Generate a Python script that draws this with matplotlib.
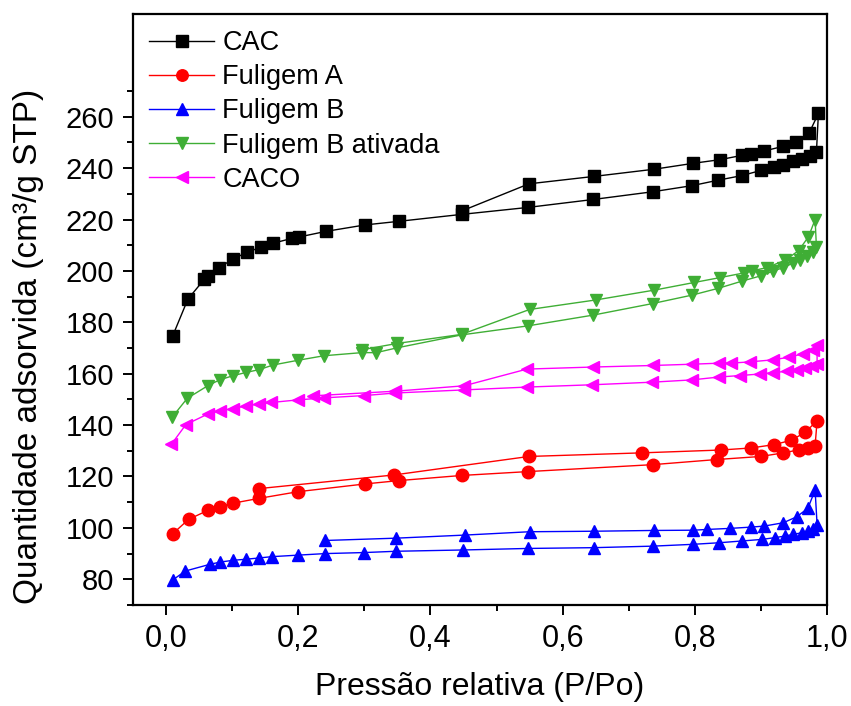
import matplotlib
matplotlib.use('Agg')
import matplotlib.pyplot as plt
from matplotlib.ticker import MultipleLocator, FixedLocator, FuncFormatter

plt.rcParams['font.family'] = ['Liberation Sans', 'DejaVu Sans']

# isotherms: adsorption branch followed by desorption branch
cac_x = [0.010, 0.033, 0.058, 0.063, 0.080, 0.102, 0.122, 0.144, 0.162, 0.191, 0.201,
         0.242, 0.301, 0.352, 0.447, 0.547, 0.646, 0.736, 0.796, 0.835, 0.871, 0.900,
         0.920, 0.934, 0.949, 0.962, 0.974, 0.984,
         0.987, 0.973, 0.953, 0.934, 0.905, 0.885, 0.872, 0.838, 0.798, 0.739, 0.648,
         0.549, 0.447]
cac_y = [174.7, 189.0, 196.8, 198.0, 201.3, 204.7, 207.2, 209.3, 210.8, 212.7, 213.2,
         215.4, 217.9, 219.3, 222.0, 224.7, 227.8, 230.8, 233.2, 235.3, 237.1, 239.1,
         240.4, 241.4, 242.6, 243.5, 244.8, 246.2,
         261.3, 253.7, 250.3, 248.5, 246.7, 245.6, 245.0, 243.3, 241.9, 239.6, 236.8,
         233.9, 223.3]

fa_x = [0.010, 0.034, 0.064, 0.081, 0.101, 0.141, 0.200, 0.301, 0.352, 0.447, 0.547,
        0.736, 0.833, 0.900, 0.934, 0.958, 0.972, 0.982,
        0.985, 0.967, 0.946, 0.920, 0.885, 0.839, 0.720, 0.549, 0.345, 0.141]
fa_y = [97.7, 103.3, 106.9, 108.3, 109.6, 111.5, 114.1, 117.1, 118.4, 120.4, 121.9,
        124.6, 126.6, 127.8, 129.2, 130.4, 131.1, 132.0,
        141.7, 137.2, 134.1, 132.4, 131.1, 130.3, 129.2, 127.8, 120.6, 115.3]

fb_x = [0.010, 0.029, 0.066, 0.082, 0.102, 0.121, 0.141, 0.160, 0.200, 0.241, 0.300,
        0.348, 0.449, 0.548, 0.647, 0.737, 0.797, 0.836, 0.871, 0.901, 0.921, 0.936,
        0.949, 0.962, 0.972, 0.979, 0.985,
        0.982, 0.971, 0.954, 0.934, 0.905, 0.885, 0.853, 0.819, 0.798, 0.738, 0.648,
        0.550, 0.452, 0.348, 0.241]
fb_y = [79.7, 83.2, 85.8, 86.7, 87.4, 87.8, 88.3, 88.8, 89.4, 90.0, 90.4,
        90.9, 91.4, 92.0, 92.3, 92.9, 93.6, 94.2, 94.9, 95.5, 96.2, 96.8,
        97.5, 98.1, 98.7, 99.7, 101.3,
        114.7, 107.6, 104.3, 102.0, 100.7, 100.3, 99.8, 99.4, 99.1, 99.0, 98.7,
        98.5, 97.2, 96.0, 95.1]

fba_x = [0.009, 0.032, 0.063, 0.081, 0.101, 0.121, 0.141, 0.162, 0.199, 0.239, 0.296,
         0.318, 0.350, 0.447, 0.547, 0.646, 0.736, 0.796, 0.835, 0.871, 0.900, 0.919,
         0.934, 0.949, 0.959, 0.969, 0.979, 0.984,
         0.982, 0.972, 0.957, 0.937, 0.909, 0.886, 0.874, 0.838, 0.799, 0.738, 0.650,
         0.550, 0.447, 0.350, 0.296]
fba_y = [143.0, 150.4, 155.3, 157.6, 159.2, 160.5, 161.6, 163.4, 165.2, 167.0, 168.2,
         168.2, 170.1, 175.1, 178.6, 182.8, 187.3, 190.6, 193.2, 196.0, 198.1, 200.0,
         201.3, 203.1, 204.2, 205.7, 207.4, 209.3,
         220.0, 213.3, 207.9, 204.2, 201.3, 200.0, 199.2, 197.4, 195.5, 192.5, 188.7,
         185.0, 175.3, 171.8, 169.3]

caco_x = [0.008, 0.030, 0.063, 0.081, 0.101, 0.121, 0.141, 0.159, 0.199, 0.239, 0.300,
          0.347, 0.451, 0.546, 0.645, 0.735, 0.796, 0.836, 0.869, 0.899, 0.919, 0.940,
          0.955, 0.967, 0.977, 0.985,
          0.985, 0.979, 0.963, 0.942, 0.918, 0.883, 0.854, 0.837, 0.796, 0.736, 0.646,
          0.546, 0.451, 0.347, 0.222]
caco_y = [132.5, 140.2, 144.3, 145.6, 146.4, 147.5, 148.2, 148.8, 149.8, 150.6, 151.5,
          152.5, 153.7, 154.8, 155.7, 156.7, 157.6, 158.7, 159.3, 159.9, 160.4, 161.0,
          161.6, 162.2, 162.9, 163.8,
          171.2, 169.2, 167.7, 166.4, 165.4, 164.6, 164.1, 164.1, 163.7, 163.2, 162.6,
          161.8, 155.3, 153.2, 151.4]

fig = plt.figure(figsize=(8.51, 7.06), dpi=100)
ax = fig.add_axes([0.1563, 0.1431, 0.8155, 0.8371])

ms = 9
ax.plot(cac_x, cac_y, '-s', color='black', lw=1, ms=ms, label='CAC')
ax.plot(fa_x, fa_y, '-o', color='#ff0000', lw=1, ms=ms, label='Fuligem A')
ax.plot(fb_x, fb_y, '-^', color='#0000ff', lw=1, ms=ms, label='Fuligem B')
ax.plot(fba_x, fba_y, '-v', color='#3fae35', lw=1, ms=ms, label='Fuligem B ativada')
ax.plot(caco_x, caco_y, '-<', color='#ff00ff', lw=1, ms=ms, label='CACO')

ax.set_xlim(-0.05, 1.0)
ax.set_ylim(70, 300)
ax.xaxis.set_major_locator(MultipleLocator(0.2))
ax.xaxis.set_minor_locator(MultipleLocator(0.1))
ax.yaxis.set_major_locator(FixedLocator(list(range(80, 261, 20))))
ax.yaxis.set_minor_locator(FixedLocator(list(range(70, 271, 20))))
ax.xaxis.set_major_formatter(FuncFormatter(lambda v, p: f'{v:.1f}'.replace('.', ',')))

for s in ax.spines.values():
    s.set_linewidth(1.6)
ax.tick_params(which='major', direction='out', length=7.5, width=1.4, labelsize=21)
ax.tick_params(which='minor', direction='out', length=4.5, width=1.4)
ax.tick_params(axis='y', pad=6)
ax.tick_params(axis='x', labelsize=22, pad=6)

ax.set_xlabel('Pressão relativa (P/Po)', fontsize=23, labelpad=13)
ax.set_ylabel('Quantidade adsorvida (cm³/g STP)', fontsize=24)
ax.yaxis.set_label_coords(-0.128, 0.437)

ax.legend(loc='upper left', frameon=False, fontsize=19.5, numpoints=1, markerscale=0.92,
          handlelength=2.4, labelspacing=0.3, handletextpad=0.3,
          borderaxespad=0.2, bbox_to_anchor=(0.0, 1.0))

fig.savefig('out.png', dpi=100)
